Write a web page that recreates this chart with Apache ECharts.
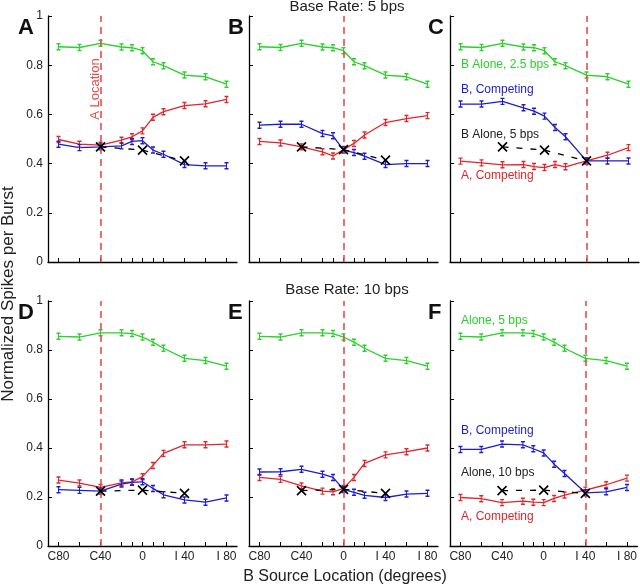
<!DOCTYPE html>
<html>
<head>
<meta charset="utf-8">
<script src="https://cdn.jsdelivr.net/npm/echarts@6/dist/echarts.min.js"></script>
<style>
html,body{margin:0;padding:0;background:#fff;}
#chart{width:640px;height:587px;}
</style>
</head>
<body>
<div id="chart"></div>
<script>
// ---- data ----
var xs = [-80, -60, -40, -20, -10, 0, 10, 20, 40, 60, 80];
var xTickLabels = [-80, -40, 0, 40, 80];
var aloneX = [-40, 0, 40];
var aLocations = [-40, 0, 40, -40, 0, 40];
var panelLetters = ['A', 'B', 'C', 'D', 'E', 'F'];

// Base rate 5 bps (top row)
var greenTop = [0.875, 0.872, 0.889, 0.874, 0.871, 0.859, 0.814, 0.798, 0.760, 0.753, 0.723];
var redA = [0.498, 0.479, 0.475, 0.495, 0.509, 0.533, 0.588, 0.611, 0.636, 0.643, 0.661];
var blueA = [0.479, 0.465, 0.468, 0.472, 0.490, 0.493, 0.455, 0.438, 0.396, 0.391, 0.391];
var aloneA = [0.468, 0.455, 0.411];
var redB = [0.490, 0.484, 0.468, 0.448, 0.431, 0.457, 0.482, 0.516, 0.567, 0.583, 0.595];
var blueB = [0.556, 0.560, 0.560, 0.522, 0.513, 0.455, 0.445, 0.430, 0.396, 0.400, 0.400];
var aloneB = [0.468, 0.457, 0.414];
var redC = [0.410, 0.403, 0.395, 0.396, 0.388, 0.384, 0.396, 0.387, 0.411, 0.434, 0.465];
var blueC = [0.642, 0.642, 0.653, 0.627, 0.613, 0.593, 0.547, 0.509, 0.411, 0.411, 0.411];
var aloneC = [0.468, 0.455, 0.411];

// Base rate 10 bps (bottom row)
var greenBottom = [0.856, 0.853, 0.870, 0.870, 0.867, 0.853, 0.832, 0.807, 0.766, 0.757, 0.734];
var redD = [0.269, 0.257, 0.239, 0.258, 0.262, 0.283, 0.329, 0.378, 0.413, 0.413, 0.416];
var blueD = [0.230, 0.227, 0.224, 0.253, 0.260, 0.262, 0.235, 0.209, 0.188, 0.179, 0.196];
var aloneD = [0.224, 0.228, 0.215];
var redE = [0.280, 0.272, 0.245, 0.224, 0.221, 0.235, 0.280, 0.337, 0.372, 0.385, 0.400];
var blueE = [0.302, 0.303, 0.313, 0.293, 0.280, 0.231, 0.219, 0.207, 0.198, 0.212, 0.215];
var aloneE = [0.226, 0.231, 0.215];
var redF = [0.198, 0.193, 0.177, 0.183, 0.179, 0.177, 0.194, 0.208, 0.228, 0.250, 0.277];
var blueF = [0.394, 0.394, 0.416, 0.413, 0.397, 0.380, 0.334, 0.296, 0.217, 0.221, 0.239];
var aloneF = [0.226, 0.228, 0.215];

var greens = [greenTop, greenTop, greenTop, greenBottom, greenBottom, greenBottom];
var reds = [redA, redB, redC, redD, redE, redF];
var blues = [blueA, blueB, blueC, blueD, blueE, blueF];
var alones = [aloneA, aloneB, aloneC, aloneD, aloneE, aloneF];

// ---- styling ----
var FONT = 'Liberation Sans, Arial, sans-serif';
var GREEN = '#2bd02b', RED = '#e3242b', BLUE = '#1c1cd0', DASHRED = '#e0504f';
var lefts = [48, 249, 450];
var letterX = [18, 228, 428];
var tops = [16, 301];
var heights = [246, 245];
var W = 189;

function pairs(xv, yv) { return xv.map(function (x, i) { return [x, yv[i]]; }); }
var IBEAM = 'path://M0,0L4,0M2,0L2,8M0,8L4,8';
var XMARK = 'path://M0,0L10,10M10,0L0,10';

var grids = [], xAxes = [], yAxes = [], series = [], graphics = [];
for (var p = 0; p < 6; p++) {
  var row = Math.floor(p / 3), col = p % 3;
  grids.push({ left: lefts[col], top: tops[row], width: W, height: heights[row] });
  xAxes.push({
    type: 'value', gridIndex: p, min: -90, max: 90,
    splitLine: { show: false },
    axisLine: { show: true, onZero: false, lineStyle: { color: '#000', width: 1.3 } },
    axisTick: { show: true, inside: true, length: 4, customValues: xs, lineStyle: { color: '#000', width: 1 } },
    axisLabel: {
      show: row === 1, customValues: xTickLabels, margin: 5, color: '#222', fontSize: 12, fontFamily: FONT,
      formatter: function (v) { return v < 0 ? 'C' + (-v) : (v > 0 ? 'I ' + v : '0'); }
    }
  });
  yAxes.push({
    type: 'value', gridIndex: p, min: 0, max: 1, interval: 0.2,
    splitLine: { show: false },
    axisLine: { show: true, onZero: false, lineStyle: { color: '#000', width: 1.3 } },
    axisTick: { show: true, inside: true, length: 4, lineStyle: { color: '#000', width: 1 } },
    axisLabel: { show: col === 0, margin: 5, color: '#222', fontSize: 12, fontFamily: FONT }
  });
  // red dashed A-location line
  series.push({
    type: 'line', xAxisIndex: p, yAxisIndex: p, data: [], clip: false, silent: true,
    markLine: {
      silent: true, symbol: 'none', animation: false,
      label: { show: false },
      lineStyle: { color: DASHRED, type: [7, 5], width: 1.6 },
      data: [[{ coord: [aLocations[p], 0] }, { coord: [aLocations[p], 1] }]]
    }
  });
  var lineDefs = [[greens[p], GREEN], [reds[p], RED], [blues[p], BLUE]];
  lineDefs.forEach(function (d) {
    series.push({
      type: 'line', xAxisIndex: p, yAxisIndex: p, data: pairs(xs, d[0]),
      showSymbol: true, symbol: IBEAM, symbolSize: [4, 6],
      lineStyle: { color: d[1], width: 1.3 },
      itemStyle: { color: d[1], borderColor: d[1], borderWidth: 1.2 },
      emphasis: { disabled: true }, silent: true
    });
  });
  series.push({
    type: 'line', xAxisIndex: p, yAxisIndex: p, data: pairs(aloneX, alones[p]),
    showSymbol: true, symbol: XMARK, symbolSize: 9,
    lineStyle: { color: '#000', width: 1.3, type: [6, 8] },
    itemStyle: { color: '#000', borderColor: '#000', borderWidth: 1.6 },
    emphasis: { disabled: true }, silent: true, z: 5
  });
  graphics.push({
    type: 'text', x: letterX[col], y: tops[row] + 1,
    style: { text: panelLetters[p], font: 'bold 22px ' + FONT, fill: '#111' }
  });
}

function label(txt, x, y, color, size, align) {
  return { type: 'text', x: x, y: y, style: { text: txt, fill: color, font: (size || 12) + 'px ' + FONT, verticalAlign: 'middle', align: align || 'left' } };
}
graphics.push(label('Base Rate: 5 bps', 347, 7, '#222', 15, 'center'));
graphics.push(label('Base Rate: 10 bps', 347, 290, '#222', 15, 'center'));
graphics.push(label('B Source Location (degrees)', 345, 577, '#222', 16, 'center'));
graphics.push({ type: 'text', x: 8, y: 294, rotation: Math.PI / 2,
  style: { text: 'Normalized Spikes per Burst', fill: '#222', font: '17px ' + FONT, align: 'center', verticalAlign: 'middle' } });
graphics.push({ type: 'text', x: 95, y: 89, rotation: Math.PI / 2,
  style: { text: 'A Location', fill: DASHRED, font: '13px ' + FONT, align: 'center', verticalAlign: 'middle' } });
// panel C labels
graphics.push(label('B Alone, 2.5 bps', 461, 65, GREEN, 12));
graphics.push(label('B, Competing', 461, 90, BLUE, 12));
graphics.push(label('B Alone, 5 bps', 461, 135, '#222', 12));
graphics.push(label('A, Competing', 461, 176, RED, 12));
// panel F labels
graphics.push(label('Alone, 5 bps', 461, 321, GREEN, 12));
graphics.push(label('B, Competing', 461, 431, BLUE, 12));
graphics.push(label('Alone, 10 bps', 461, 473, '#222', 12));
graphics.push(label('A, Competing', 461, 517, RED, 12));

var chart = echarts.init(document.getElementById('chart'), null, { renderer: 'canvas' });
chart.setOption({
  animation: false,
  backgroundColor: '#fff',
  grid: grids, xAxis: xAxes, yAxis: yAxes, series: series, graphic: graphics
});
</script>
</body>
</html>
